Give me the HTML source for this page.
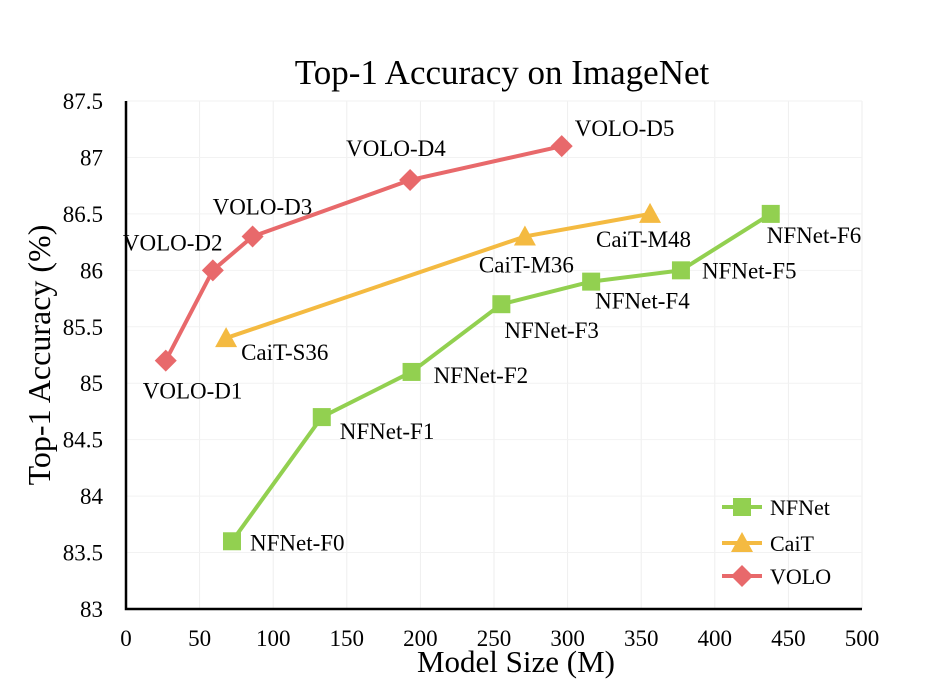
<!DOCTYPE html>
<html><head><meta charset="utf-8"><style>
body{margin:0;background:#fff}
svg{display:block;font-family:"Liberation Serif",serif}
</style></head><body>
<svg id="c" width="942" height="690">
<text x="502" y="84" font-size="35" text-anchor="middle">Top-1 Accuracy on ImageNet</text>
<text transform="translate(50,355) rotate(-90)" font-size="32" text-anchor="middle">Top-1 Accuracy (%)</text>
<text x="516" y="672" font-size="31" text-anchor="middle">Model Size (M)</text>
<g id="grid"></g><g id="axes"></g><g id="series"></g><g id="legend"></g>
</svg>
<script>
const xTicks=[0,50,100,150,200,250,300,350,400,450,500];
const yTicks=[83,83.5,84,84.5,85,85.5,86,86.5,87,87.5];
const nfnetSize=[72,133,194,255,316,377,438];
const nfnetAcc=[83.6,84.7,85.1,85.7,85.9,86.0,86.5];
const nfnetLabels=["NFNet-F0","NFNet-F1","NFNet-F2","NFNet-F3","NFNet-F4","NFNet-F5","NFNet-F6"];
const caitSize=[68,271,356];
const caitAcc=[85.4,86.3,86.5];
const caitLabels=["CaiT-S36","CaiT-M36","CaiT-M48"];
const voloSize=[27,59,86,193,296];
const voloAcc=[85.2,86.0,86.3,86.8,87.1];
const voloLabels=["VOLO-D1","VOLO-D2","VOLO-D3","VOLO-D4","VOLO-D5"];

const X=v=>126+v*(862-126)/500;
const Y=v=>609-(v-83)*(609-101)/4.5;
const NS="http://www.w3.org/2000/svg";
function mk(t,a,p){const e=document.createElementNS(NS,t);for(const k in a)e.setAttribute(k,a[k]);p.appendChild(e);return e;}
const grid=document.getElementById('grid'),axes=document.getElementById('axes'),ser=document.getElementById('series'),leg=document.getElementById('legend');
xTicks.forEach(t=>{
  if(t>0){const g=mk('line',{x1:X(t),x2:X(t),y1:101,y2:609,stroke:'#eee','stroke-width':1},grid);
  
  }
  const tx=mk('text',{x:X(t),y:646,'font-size':23,'text-anchor':'middle'},axes);tx.textContent=t;
  
  
});
yTicks.forEach(t=>{
  if(t>83){const g=mk('line',{x1:126,x2:862,y1:Y(t),y2:Y(t),stroke:'#f2f2f2','stroke-width':1},grid);
  
  }
  const tx=mk('text',{x:103,y:Y(t)+8,'font-size':23,'text-anchor':'end'},axes);tx.textContent=t;
  
  
});
const ax=mk('path',{d:`M${X(0)},${Y(87.5)}V${Y(83)}H${X(500)}`,fill:'none',stroke:'#000','stroke-width':2.5},axes);



function marker(shape,x,y,color,p){
  let e;
  if(shape==='sq')e=mk('rect',{x:x-9,y:y-9,width:18,height:18,fill:color},p);
  else if(shape==='tri')e=mk('polygon',{points:`${x},${y-11} ${x+11},${y+9} ${x-11},${y+9}`,fill:color},p);
  else e=mk('polygon',{points:`${x},${y-11} ${x+11},${y} ${x},${y+11} ${x-11},${y}`,fill:color},p);
  return e;
}
function series(name,sz,acc,labels,color,shape,offs){
  const g=mk('g',{},ser);
  
  
  const l=mk('polyline',{points:sz.map((s,i)=>X(s)+','+Y(acc[i])).join(' '),fill:'none',stroke:color,'stroke-width':4,'stroke-linejoin':'round'},g);
  
  
  sz.forEach((s,i)=>{
    const m=marker(shape,X(s),Y(acc[i]),color,g);
    
    
    const t=mk('text',{x:X(s)+offs[i][0],y:Y(acc[i])+offs[i][1],'font-size':23},g);t.textContent=labels[i];
    
    
  });
}
series('nfnet',nfnetSize,nfnetAcc,nfnetLabels,'#92d050','sq',[[18,9],[18,22],[22,11],[3,34],[4,27],[21,8],[-4,29]]);
series('cait',caitSize,caitAcc,caitLabels,'#f4ba41','tri',[[15,22],[-46,36],[-54,33]]);
series('volo',voloSize,voloAcc,voloLabels,'#e8696b','dia',[[-23,38],[-90,-20],[-40,-22],[-64,-24],[13,-10]]);
[['NFNet','#92d050','sq',507],['CaiT','#f4ba41','tri',543],['VOLO','#e8696b','dia',576]].forEach(r=>{
  const g=mk('g',{},leg);
  
  
  mk('line',{x1:722,x2:762,y1:r[3],y2:r[3],stroke:r[1],'stroke-width':4},g);
  marker(r[2],742,r[3],r[1],g);
  const t=mk('text',{x:770,y:r[3]+8,'font-size':22},g);t.textContent=r[0];
});
</script>
</body></html>
